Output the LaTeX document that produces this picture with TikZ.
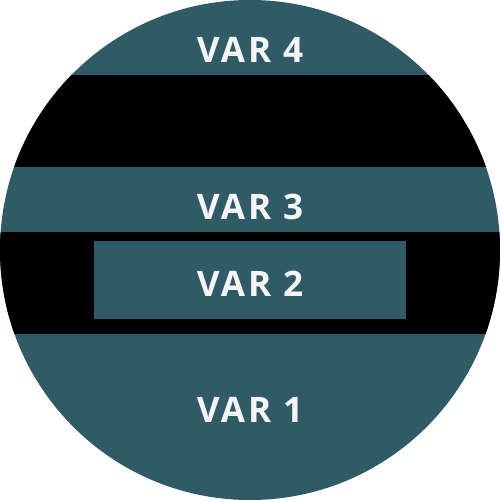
\documentclass[tikz,border=0pt]{standalone}
\usepackage{fontspec}
\setmainfont{Open Sans}
\newfontfamily\lblfont[LetterSpace=8]{Open Sans}
\definecolor{teal1}{HTML}{2F5A66}
\definecolor{offw}{HTML}{F4F6F6}
\tikzset{
  lbl/.style={text=offw, font=\lblfont\fontsize{20}{24}\selectfont\bfseries, inner sep=0pt, anchor=base},
  band/.style={fill=black, draw=none}
}
\begin{document}
\begin{tikzpicture}[x=0.02cm,y=-0.02cm]
\useasboundingbox (0,0) rectangle (500,500);
\begin{scope}
\clip (250,250) circle [radius=250];
\fill[teal1] (0,0) rectangle (500,500);
\fill[black] (0,75) rectangle (500,167);
\fill[black] (0,232) rectangle (500,334);
\end{scope}
\node[fill=teal1, minimum width=312*0.02cm, minimum height=78*0.02cm, inner sep=0pt, anchor=north west] (r2) at (94,241) {};
\node[lbl] (v4) at (250,62.5) {VAR 4};
\node[lbl] (v3) at (250,219.5) {VAR 3};
\node[lbl] (v2) at (250,296.5) {VAR 2};
\node[lbl] (v1) at (250,422.5) {VAR 1};
\end{tikzpicture}
\end{document}
